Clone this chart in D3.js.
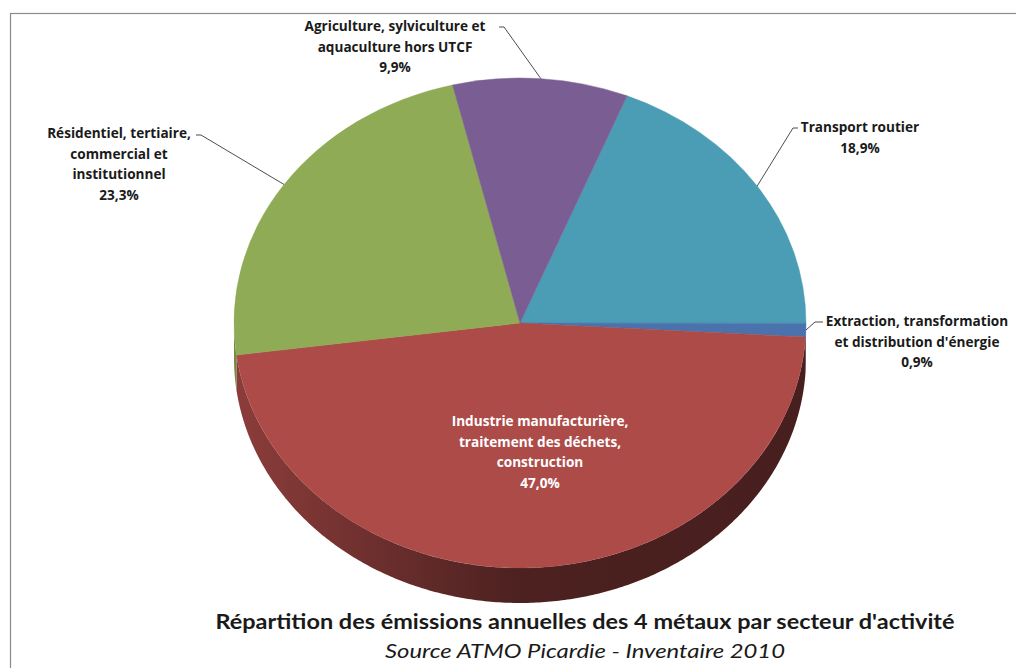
<!DOCTYPE html>
<html><head><meta charset="utf-8">
<script src="https://cdn.jsdelivr.net/npm/d3@7"></script>
<style>
html,body{margin:0;padding:0;background:#fff;}
svg{display:block;}
text{font-family:Lato,"Open Sans",sans-serif;}
</style></head>
<body>
<svg id="c" width="1016" height="668"></svg>
<script>
// ---- data ----
const categories = [
  "Transport routier",
  "Extraction, transformation et distribution d'énergie",
  "Industrie manufacturière, traitement des déchets, construction",
  "Résidentiel, tertiaire, commercial et institutionnel",
  "Agriculture, sylviculture et aquaculture hors UTCF"
];
const values = [18.9, 0.9, 47.0, 23.3, 9.9];
const valueLabels = ["18,9%", "0,9%", "47,0%", "23,3%", "9,9%"];
const labelLines = [
  ["Transport routier"],
  ["Extraction, transformation", "et distribution d'énergie"],
  ["Industrie manufacturière,", "traitement des déchets,", "construction"],
  ["Résidentiel, tertiaire,", "commercial et", "institutionnel"],
  ["Agriculture, sylviculture et", "aquaculture hors UTCF"]
];
const colors = ["#4a9db5", "#4a73ae", "#ad4b49", "#8fab55", "#7a5e93"];
const titleText = "Répartition des émissions annuelles des 4 métaux par secteur d'activité";
const subtitleText = "Source ATMO Picardie - Inventaire 2010";

// ---- layout ----
const W = 1016, H = 668;
const cx = 520, cy = 323, rx = 286, ry = 245, depth = 35;
const startDeg = 22;
const labelLayout = [
  {x: 860, y: 132, anchor: "middle", lx: 798, ly: 128, ex: 793},
  {x: 917, y: 326, anchor: "middle", lx: 823, ly: 322, ex: 815},
  {x: 540, y: 426, anchor: "middle", inside: true},
  {x: 119, y: 138, anchor: "middle", lx: 196, ly: 135, ex: 201},
  {x: 395, y: 31, anchor: "middle", lx: 499, ly: 27, ex: 504}
];

const svg = d3.select("#c");
const defs = svg.append("defs");

svg.append("rect").attr("x", 10.5).attr("y", 13.5).attr("width", 1020).attr("height", 670)
  .attr("fill", "none").attr("stroke", "#8c8c8c").attr("stroke-width", 1.2);

const pie = d3.pie().sort(null).value(d => d)
  .startAngle(startDeg * Math.PI / 180).endAngle(startDeg * Math.PI / 180 + 2 * Math.PI);
const arcs = pie(values);

const ex = a => cx + rx * Math.sin(a);
const ey = a => cy - ry * Math.cos(a);

const sideG = svg.append("g");
arcs.forEach((d, i) => {
  const a0 = d.startAngle, a1 = d.endAngle;
  const ranges = [];
  for (let k = -1; k <= 1; k++) {
    const lo = Math.PI / 2 + 2 * Math.PI * k, hi = 3 * Math.PI / 2 + 2 * Math.PI * k;
    const s = Math.max(a0, lo), e = Math.min(a1, hi);
    if (e > s) ranges.push([s, e]);
  }
  const base = d3.color(colors[i]);
  const gid = "side" + i;
  const grad = defs.append("linearGradient").attr("id", gid)
    .attr("gradientUnits", "userSpaceOnUse")
    .attr("x1", cx - rx).attr("x2", cx + rx).attr("y1", 0).attr("y2", 0);
  grad.append("stop").attr("offset", 0).attr("stop-color", base.darker(0.6));
  grad.append("stop").attr("offset", 0.5).attr("stop-color", base.darker(2.3));
  grad.append("stop").attr("offset", 1).attr("stop-color", base.darker(2.5));
  ranges.forEach(([s, e]) => {
    const n = Math.max(2, Math.ceil((e - s) / 0.01));
    const pts = d3.range(n + 1).map(j => s + (e - s) * j / n);
    const p = d3.path();
    p.moveTo(ex(pts[0]), ey(pts[0]));
    pts.forEach(a => p.lineTo(ex(a), ey(a)));
    for (let j = pts.length - 1; j >= 0; j--) p.lineTo(ex(pts[j]), ey(pts[j]) + depth);
    p.closePath();
    sideG.append("path").attr("d", p.toString()).attr("fill", `url(#${gid})`);
  });
});

const arcGen = d3.arc().innerRadius(0).outerRadius(rx);
const topG = svg.append("g").attr("transform", `translate(${cx},${cy}) scale(1,${ry / rx})`);
topG.selectAll("path").data(arcs).join("path")
  .attr("d", arcGen)
  .attr("fill", (d, i) => colors[i])
  .attr("stroke", (d, i) => colors[i]).attr("stroke-width", 0.5);

const lineH = 20.5;
arcs.forEach((d, i) => {
  const L = labelLayout[i];
  const lines = labelLines[i].concat([valueLabels[i]]);
  const t = svg.append("text")
    .attr("text-anchor", L.anchor)
    .style("font-family", "'Open Sans', sans-serif")
    .attr("font-size", 13.6).attr("font-weight", 700)
    .attr("fill", L.inside ? "#ffffff" : "#1a1a1a");
  lines.forEach((s, j) => {
    t.append("tspan").attr("x", L.x).attr("y", L.y + j * lineH).text(s);
  });
  if (!L.inside) {
    const mid = (d.startAngle + d.endAngle) / 2;
    const p = d3.path();
    p.moveTo(L.lx, L.ly);
    p.lineTo(L.ex, L.ly);
    p.lineTo(ex(mid), ey(mid));
    svg.append("path").attr("d", p.toString()).attr("fill", "none")
      .attr("stroke", "#4d4d4d").attr("stroke-width", 1);
  }
});

svg.append("text").attr("x", 585).attr("y", 629).attr("text-anchor", "middle")
  .attr("font-size", 20.5).attr("font-weight", 700).attr("fill", "#1a1a1a")
  .attr("textLength", 739).attr("lengthAdjust", "spacingAndGlyphs")
  .text(titleText);
svg.append("text").attr("x", 585).attr("y", 658).attr("text-anchor", "middle")
  .attr("font-size", 20).attr("font-style", "italic").attr("fill", "#1a1a1a")
  .attr("textLength", 400).attr("lengthAdjust", "spacingAndGlyphs")
  .text(subtitleText);
</script>
</body></html>
